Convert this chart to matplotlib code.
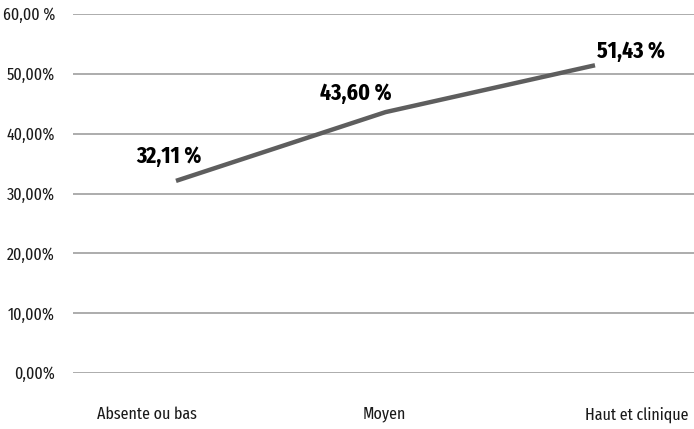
import matplotlib
matplotlib.use("Agg")
import matplotlib.pyplot as plt

categories = ["Absente ou bas", "Moyen", "Haut et clinique"]
values = [32.11, 43.60, 51.43]
value_labels = ["32,11 %", "43,60 %", "51,43 %"]
y_ticks = [0, 10, 20, 30, 40, 50, 60]
y_tick_labels = ["0,00%", "10,00%", "20,00%", "30,00%", "40,00%", "50,00%", "60,00 %"]

plt.rcParams["font.family"] = ["Fira Sans Extra Condensed", "DejaVu Sans"]

fig = plt.figure(figsize=(6.94, 4.29), dpi=100)
ax = fig.add_axes([73 / 694, 1 - 373 / 429, 1 - 73 / 694, (373 - 14) / 429])

x = list(range(len(values)))
ax.plot(x, values, color="#5e5e5e", lw=3.2, solid_capstyle="butt", zorder=3)

# label offsets (pixels) from each point
offsets = [(-7, 25), (-30, 19), (36, 14)]
for xi, v, lab, off in zip(x, values, value_labels, offsets):
    ax.annotate(lab, (xi, v), xytext=off, textcoords="offset pixels",
                ha="center", va="center", fontsize=17, fontweight="bold",
                color="black")

ax.set_xlim(-0.4916, 2.4726)
ax.set_ylim(0, 60)
ax.set_yticks(y_ticks)
ax.set_yticklabels(y_tick_labels, fontsize=12.5, color="#1a1a1a")
ax.yaxis.grid(True, color="#a6a6a6", lw=1.3)
ax.set_axisbelow(True)
ax.tick_params(axis="y", length=0, pad=13)

# category names sit below the plot, not under the points
label_x = [-0.138, 0.993, 2.2]
ax.set_xticks(label_x)
ax.set_xticklabels(categories, fontsize=12.5, color="#1a1a1a")
ax.tick_params(axis="x", length=0, pad=24)
for s in ax.spines.values():
    s.set_visible(False)

fig.savefig("out.png", dpi=100)
plt.close(fig)
